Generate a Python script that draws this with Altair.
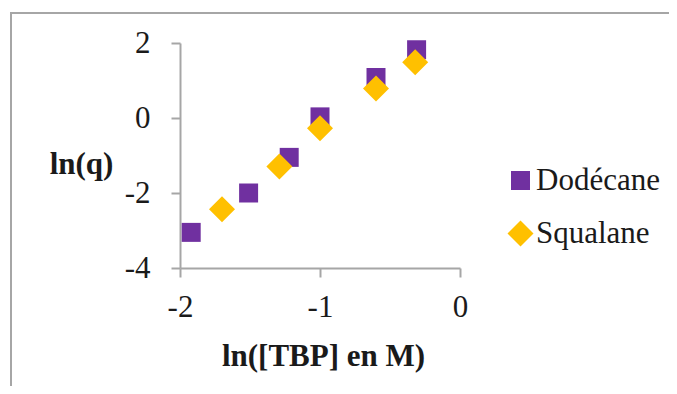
import altair as alt
import pandas as pd

series_names = ["Dodécane", "Squalane"]
dod_x = [-1.92, -1.51, -1.22, -1.00, -0.60, -0.31]
dod_y = [-3.05, -2.00, -1.05, 0.03, 1.08, 1.82]
squ_x = [-1.70, -1.29, -1.00, -0.60, -0.32]
squ_y = [-2.43, -1.29, -0.27, 0.79, 1.49]
x_ticks = [-2, -1, 0]
y_ticks = [-4, -2, 0, 2]

rows = [{"x": a, "y": b, "s": series_names[0]} for a, b in zip(dod_x, dod_y)]
rows += [{"x": a, "y": b, "s": series_names[1]} for a, b in zip(squ_x, squ_y)]
df = pd.DataFrame(rows)

FONT = "Liberation Serif"
GRAY = "#a6a6a6"
TXT = "#1a1a1a"
LABEL_EXPR = "datum.value < 0 ? '-' + format(-datum.value, 'd') : format(datum.value, 'd')"

points = alt.Chart(df).mark_point(filled=True, opacity=1, strokeWidth=0).encode(
    x=alt.X("x:Q", scale=alt.Scale(domain=[-2, 0], nice=False, zero=False),
            axis=alt.Axis(values=x_ticks, title="ln([TBP] en M)", grid=False,
                          labelFlush=False, labelExpr=LABEL_EXPR,
                          titleX=143, titleY=97, titleBaseline="alphabetic",
                          titleAlign="center", labelPadding=15)),
    y=alt.Y("y:Q", scale=alt.Scale(domain=[-4, 2], nice=False, zero=False),
            axis=alt.Axis(values=y_ticks, title="ln(q)", grid=False, titleAngle=0,
                          labelFlush=False, labelExpr=LABEL_EXPR,
                          titleX=-99, titleY=130, titleBaseline="alphabetic",
                          titleAlign="center", labelPadding=21)),
    color=alt.Color("s:N", scale=alt.Scale(domain=series_names, range=["#7030A0", "#FFC000"]),
                    legend=alt.Legend(title=None, orient="none", legendX=325, legendY=122,
                                      labelFont=FONT, labelFontSize=31, labelColor=TXT,
                                      labelOffset=0, rowPadding=21, padding=0)),
    shape=alt.Shape("s:N", scale=alt.Scale(domain=series_names, range=["square", "diamond"])),
    size=alt.Size("s:N", scale=alt.Scale(domain=series_names, range=[361, 676])),
)

frame_df = pd.DataFrame({"k": [0]})
top_line = alt.Chart(frame_df).mark_rule(color=GRAY, strokeWidth=2).encode(
    x=alt.value(-169), x2=alt.value(500), y=alt.value(-30))
left_line = alt.Chart(frame_df).mark_rule(color=GRAY, strokeWidth=2).encode(
    x=alt.value(-169), y=alt.value(-31), y2=alt.value(360))

chart = alt.layer(top_line, left_line, points).properties(
    width=280, height=225,
    autosize=alt.AutoSizeParams(type="none"),
    padding={"left": 172, "top": 35, "right": 209, "bottom": 118},
).configure_view(strokeWidth=0).configure_axis(
    domainColor=GRAY, domainWidth=2, tickColor=GRAY, tickWidth=2, tickSize=9,
    labelFont=FONT, labelFontSize=31, labelColor=TXT,
    titleFont=FONT, titleFontSize=31, titleFontWeight="bold", titleColor=TXT,
)

chart.save("out.html", embed_options={"renderer": "svg", "actions": False})
